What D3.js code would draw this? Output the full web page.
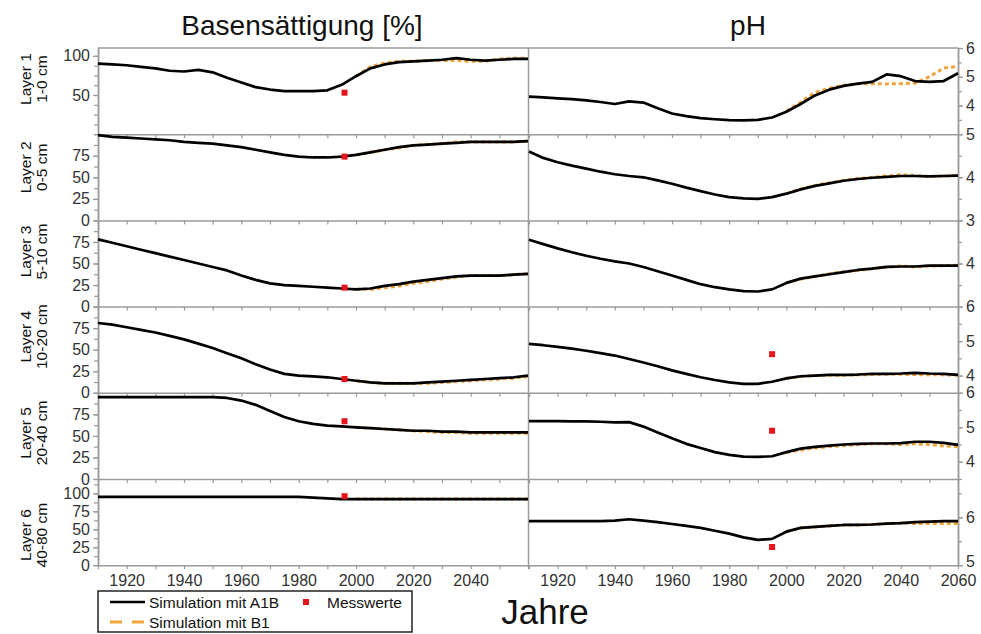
<!DOCTYPE html>
<html>
<head>
<meta charset="utf-8">
<script src="https://cdn.jsdelivr.net/npm/d3@7"></script>
<style>
  body { margin: 0; background: #fff; }
  text { font-family: Arial, "Liberation Sans", sans-serif; }
</style>
</head>
<body>
<div id="chart"></div>
<script>
// Years of the simulation output (5-year steps)
const years = [1910, 1915, 1920, 1925, 1930, 1935, 1940, 1945, 1950, 1955, 1960,
               1965, 1970, 1975, 1980, 1985, 1990, 1995, 2000, 2005, 2010, 2015,
               2020, 2025, 2030, 2035, 2040, 2045, 2050, 2055, 2060];
const yearsB1 = [2000, 2005, 2010, 2015, 2020, 2025, 2030, 2035, 2040, 2045, 2050, 2055, 2060];

const layerNames = ['Layer 1', 'Layer 2', 'Layer 3', 'Layer 4', 'Layer 5', 'Layer 6'];
const layerDepths = ['1-0 cm', '0-5 cm', '5-10 cm', '10-20 cm', '20-40 cm', '40-80 cm'];

// Basensättigung [%], scenario A1B, one array per layer
const bsA1B = [
  [90, 89, 88, 86, 84, 81, 80, 82, 79, 72, 66, 60, 57, 55, 55, 55, 56, 63, 74, 84, 89, 92, 93, 94, 95, 97, 95, 94, 95, 96, 96],
  [99, 97, 96, 95, 94, 93, 91, 90, 89, 87, 85, 82, 79, 76, 74, 73, 73, 74, 76, 79, 82, 85, 87, 88, 89, 90, 91, 91, 91, 91, 92],
  [78, 74, 70, 66, 62, 58, 54, 50, 46, 42, 36, 31, 27, 25, 24, 23, 22, 21, 20, 21, 24, 26, 29, 31, 33, 35, 36, 36, 36, 37, 38],
  [81, 79, 76, 73, 70, 66, 62, 57, 52, 46, 40, 33, 27, 22, 20, 19, 18, 16, 14, 12, 11, 11, 11, 12, 13, 14, 15, 16, 17, 18, 20],
  [95, 95, 95, 95, 95, 95, 95, 95, 95, 94, 91, 86, 79, 72, 67, 64, 62, 61, 60, 59, 58, 57, 56, 56, 55, 55, 54, 54, 54, 54, 54],
  [95, 95, 95, 95, 95, 95, 95, 95, 95, 95, 95, 95, 95, 95, 95, 94, 93, 92, 92, 92, 92, 92, 92, 92, 92, 92, 92, 92, 92, 92, 92]
];
// Basensättigung [%], scenario B1 (from 2000)
const bsB1 = [
  [74, 86, 91, 93, 93, 94, 94, 94, 93, 93, 96, 97, 97],
  [76, 79, 82, 84, 87, 88, 89, 91, 91, 91, 91, 91, 92],
  [20, 20, 22, 24, 27, 29, 32, 34, 36, 36, 36, 37, 38],
  [14, 12, 11, 11, 11, 11, 12, 13, 14, 15, 16, 17, 19],
  [60, 59, 58, 57, 56, 55, 54, 54, 53, 53, 53, 53, 53],
  [92, 92, 92, 92, 92, 92, 92, 92, 92, 92, 92, 92, 92]
];
// pH, scenario A1B
const phA1B = [
  [4.31, 4.28, 4.25, 4.22, 4.18, 4.12, 4.05, 4.14, 4.10, 3.90, 3.72, 3.63, 3.56, 3.52, 3.49, 3.48, 3.50, 3.58, 3.78, 4.05, 4.35, 4.55, 4.68, 4.76, 4.82, 5.08, 5.02, 4.85, 4.82, 4.85, 5.12],
  [4.60, 4.45, 4.35, 4.27, 4.20, 4.13, 4.07, 4.03, 4.00, 3.93, 3.85, 3.76, 3.68, 3.60, 3.54, 3.51, 3.50, 3.54, 3.62, 3.72, 3.80, 3.86, 3.92, 3.96, 3.99, 4.01, 4.03, 4.03, 4.02, 4.03, 4.04],
  [4.55, 4.45, 4.35, 4.26, 4.18, 4.11, 4.05, 4.00, 3.92, 3.82, 3.72, 3.62, 3.52, 3.45, 3.40, 3.36, 3.35, 3.40, 3.55, 3.65, 3.70, 3.75, 3.80, 3.85, 3.88, 3.92, 3.93, 3.93, 3.95, 3.95, 3.95],
  [4.92, 4.88, 4.83, 4.78, 4.72, 4.65, 4.58, 4.48, 4.38, 4.27, 4.15, 4.05, 3.95, 3.87, 3.80, 3.76, 3.76, 3.82, 3.92, 3.98, 4.00, 4.02, 4.02, 4.03, 4.05, 4.05, 4.06, 4.08, 4.06, 4.05, 4.02],
  [5.18, 5.18, 5.18, 5.17, 5.17, 5.16, 5.14, 5.15, 5.02, 4.85, 4.68, 4.52, 4.40, 4.28, 4.20, 4.15, 4.14, 4.16, 4.28, 4.38, 4.43, 4.47, 4.50, 4.52, 4.53, 4.53, 4.54, 4.58, 4.58, 4.55, 4.49],
  [5.92, 5.92, 5.92, 5.92, 5.92, 5.92, 5.93, 5.96, 5.93, 5.90, 5.86, 5.82, 5.78, 5.72, 5.66, 5.58, 5.53, 5.55, 5.70, 5.78, 5.80, 5.82, 5.84, 5.84, 5.85, 5.87, 5.88, 5.90, 5.91, 5.92, 5.92]
];
// pH, scenario B1 (from 2000)
const phB1 = [
  [3.80, 4.12, 4.45, 4.60, 4.70, 4.75, 4.76, 4.75, 4.76, 4.78, 5.00, 5.30, 5.36],
  [3.62, 3.73, 3.81, 3.87, 3.93, 3.97, 4.00, 4.03, 4.06, 4.04, 4.02, 4.03, 4.04],
  [3.55, 3.64, 3.70, 3.76, 3.81, 3.84, 3.88, 3.91, 3.94, 3.92, 3.94, 3.95, 3.96],
  [3.92, 3.97, 4.00, 4.01, 4.01, 4.02, 4.03, 4.04, 4.04, 4.03, 4.02, 4.02, 4.01],
  [4.27, 4.34, 4.40, 4.44, 4.47, 4.50, 4.52, 4.52, 4.50, 4.52, 4.50, 4.46, 4.44],
  [5.70, 5.78, 5.80, 5.82, 5.84, 5.84, 5.85, 5.87, 5.88, 5.87, 5.87, 5.87, 5.87]
];
// Messwerte [year, value]
const bsMess = [[1996, 53], [1996, 74], [1996, 22], [1996, 16], [1996, 67], [1996, 96]];
const phMess = [null, null, null, [1995, 4.62], [1995, 4.9], [1995, 5.38]];

// Axis domains and tick labels per layer
const bsDomains = [[0, 110], [0, 100], [0, 100], [0, 100], [0, 100], [0, 120]];
const bsTicks = [[50, 100], [0, 25, 50, 75], [0, 25, 50, 75], [0, 25, 50, 75], [0, 25, 50, 75], [0, 25, 50, 75, 100]];
const phDomains = [[3, 6], [3, 5], [3, 5], [3.5, 6], [3.5, 6], [5, 6.8]];
const phTicks = [[4, 5, 6], [3, 4, 5], [4], [4, 5, 6], [4, 5, 6], [5, 6]];
const xTicks = [1910, 1920, 1930, 1940, 1950, 1960, 1970, 1980, 1990, 2000, 2010, 2020, 2030, 2040, 2050, 2060];

// Layout
const W = 981, H = 634;
const plotTop = 48, rowH = 86.2;
const frame = '#9a9a9a';
const black = '#000';
const orange = '#f2a33a';
const red = '#e8141b';

const svg = d3.select('#chart')
  .append('svg')
  .attr('width', W)
  .attr('height', H);

const xL = d3.scaleLinear().domain([1910, 2060]).range([98, 528]);
const xR = d3.scaleLinear().domain([1910, 2060]).range([529, 958]);

// Titles
svg.append('text').attr('x', 302).attr('y', 35).attr('text-anchor', 'middle')
  .attr('font-size', '28px').attr('fill', '#111').text('Basensättigung [%]');
svg.append('text').attr('x', 748).attr('y', 35).attr('text-anchor', 'middle')
  .attr('font-size', '28px').attr('fill', '#111').text('pH');
svg.append('text').attr('x', 545).attr('y', 624).attr('text-anchor', 'middle')
  .attr('font-size', '35px').attr('fill', '#111').text('Jahre');

// top border
svg.append('line')
  .attr('x1', 98).attr('x2', 958).attr('y1', plotTop).attr('y2', plotTop)
  .attr('stroke', frame).attr('stroke-width', 1.5);

// half-step minor ticks inside a domain
function minorTicks(domain, step) {
  const out = [];
  for (let v = Math.ceil(domain[0] / step) * step; v <= domain[1] + 1e-9; v += step) out.push(+v.toFixed(3));
  return out;
}

const labelShift = [-12, -10, -12, -13, -3, 13];

for (let i = 0; i < 6; i++) {
  const y0 = plotTop + i * rowH;
  const y1 = y0 + rowH;
  const last = i === 5;

  const yL = d3.scaleLinear().domain(bsDomains[i]).range([y1, y0]);
  const yR = d3.scaleLinear().domain(phDomains[i]).range([y1, y0]);

  // Row label
  const cy = (y0 + y1) / 2 + labelShift[i];
  svg.append('text')
    .attr('transform', `translate(31,${cy}) rotate(-90)`)
    .attr('text-anchor', 'middle').attr('font-size', '15.5px').attr('fill', '#111')
    .text(layerNames[i]);
  svg.append('text')
    .attr('transform', `translate(47,${cy}) rotate(-90)`)
    .attr('text-anchor', 'middle').attr('font-size', '15.5px').attr('fill', '#111')
    .text(layerDepths[i]);

  // Bottom x axes (ticks every 10 years)
  const axL = svg.append('g')
    .attr('transform', `translate(0,${y1})`)
    .call(d3.axisBottom(xL).tickValues(xTicks).tickSizeInner(4).tickSizeOuter(0).tickPadding(5)
      .tickFormat(d => (last && d % 20 === 0 && d < 2060) ? d : ''));
  const axR = svg.append('g')
    .attr('transform', `translate(0,${y1})`)
    .call(d3.axisBottom(xR).tickValues(xTicks).tickSizeInner(4).tickSizeOuter(0).tickPadding(5)
      .tickFormat(d => (last && d % 20 === 0) ? d : ''));

  // Left y axis: minor + labelled ticks
  svg.append('g')
    .attr('transform', 'translate(98,0)')
    .call(d3.axisLeft(yL).tickValues(minorTicks(bsDomains[i], 12.5)).tickSizeInner(4).tickSizeOuter(0).tickFormat(''));
  const ayL = svg.append('g')
    .attr('transform', 'translate(98,0)')
    .call(d3.axisLeft(yL).tickValues(bsTicks[i]).tickSizeInner(5).tickSizeOuter(0).tickPadding(3));

  // Right y axis (pH)
  svg.append('g')
    .attr('transform', 'translate(958,0)')
    .call(d3.axisRight(yR).tickValues(minorTicks(phDomains[i], 0.5)).tickSizeInner(4).tickSizeOuter(0).tickFormat(''));
  const ayR = svg.append('g')
    .attr('transform', 'translate(958,0)')
    .call(d3.axisRight(yR).tickValues(phTicks[i]).tickSizeInner(5).tickSizeOuter(0).tickPadding(3)
      .tickFormat(d3.format('d')));

  // Panel separator
  svg.append('line')
    .attr('x1', 528.5).attr('x2', 528.5).attr('y1', y0).attr('y2', y1)
    .attr('stroke', frame).attr('stroke-width', 1.5);

  // Scenario B1 (dashed, underneath)
  const lineL = d3.line().x(d => xL(d[0])).y(d => yL(d[1]));
  const lineR = d3.line().x(d => xR(d[0])).y(d => yR(d[1]));

  svg.append('path')
    .datum(yearsB1.map((yr, j) => [yr, bsB1[i][j]]))
    .attr('d', lineL).attr('fill', 'none')
    .attr('stroke', orange).attr('stroke-width', 3).attr('stroke-dasharray', '4,3');
  svg.append('path')
    .datum(yearsB1.map((yr, j) => [yr, phB1[i][j]]))
    .attr('d', lineR).attr('fill', 'none')
    .attr('stroke', orange).attr('stroke-width', 3).attr('stroke-dasharray', '4,3');

  // Scenario A1B
  svg.append('path')
    .datum(years.map((yr, j) => [yr, bsA1B[i][j]]))
    .attr('d', lineL).attr('fill', 'none')
    .attr('stroke', black).attr('stroke-width', 2.7).attr('stroke-linejoin', 'round');
  svg.append('path')
    .datum(years.map((yr, j) => [yr, phA1B[i][j]]))
    .attr('d', lineR).attr('fill', 'none')
    .attr('stroke', black).attr('stroke-width', 2.7).attr('stroke-linejoin', 'round');

  // Messwerte
  if (bsMess[i]) {
    svg.append('rect')
      .attr('x', xL(bsMess[i][0]) - 3).attr('y', yL(bsMess[i][1]) - 3)
      .attr('width', 6).attr('height', 6).attr('fill', red);
  }
  if (phMess[i]) {
    svg.append('rect')
      .attr('x', xR(phMess[i][0]) - 3).attr('y', yR(phMess[i][1]) - 3)
      .attr('width', 6).attr('height', 6).attr('fill', red);
  }

  // axis styling
  [axL, axR, ayL, ayR].forEach(g => {
    g.selectAll('text').attr('font-size', '16px').attr('fill', '#333').attr('font-family', 'Arial, "Liberation Sans", sans-serif');
  });
  // lift the bottom pH label a little so it clears the year labels
  if (last) ayR.selectAll('.tick text').filter(d => d === 5).attr('dy', '0.1em');
}

// common axis colour
svg.selectAll('.domain').attr('stroke', frame).attr('stroke-width', 1.5);
svg.selectAll('.tick line').attr('stroke', frame).attr('stroke-width', 1.2);

// Legend
const legend = svg.append('g').attr('transform', 'translate(98,591)');
legend.append('rect')
  .attr('x', 0).attr('y', 0).attr('width', 314).attr('height', 41)
  .attr('fill', '#fff').attr('stroke', '#222').attr('stroke-width', 1.5);
legend.append('line')
  .attr('x1', 12).attr('x2', 47).attr('y1', 11).attr('y2', 11)
  .attr('stroke', black).attr('stroke-width', 2.6);
legend.append('text').attr('x', 51).attr('y', 16.5)
  .attr('font-size', '15.5px').attr('fill', '#111').text('Simulation mit A1B');
legend.append('line')
  .attr('x1', 12).attr('x2', 46).attr('y1', 31).attr('y2', 31)
  .attr('stroke', orange).attr('stroke-width', 3).attr('stroke-dasharray', '12,10');
legend.append('text').attr('x', 51).attr('y', 36.5)
  .attr('font-size', '15.5px').attr('fill', '#111').text('Simulation mit B1');
legend.append('rect')
  .attr('x', 205).attr('y', 8).attr('width', 6).attr('height', 6).attr('fill', red);
legend.append('text').attr('x', 229).attr('y', 16.5)
  .attr('font-size', '15.5px').attr('fill', '#111').text('Messwerte');
</script>
</body>
</html>
